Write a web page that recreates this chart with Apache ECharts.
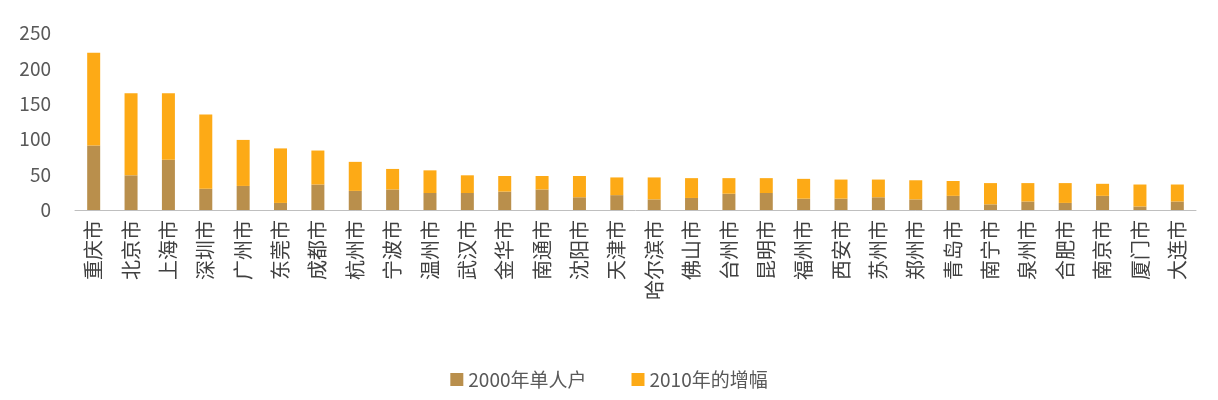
<!DOCTYPE html>
<html><head><meta charset="utf-8">
<script src="https://cdn.jsdelivr.net/npm/echarts@6/dist/echarts.min.js"></script>
<style>body{margin:0;background:#fff}#c{width:1218px;height:400px}</style>
</head><body><div id="c"></div>
<script>
var cities = ['重庆市','北京市','上海市','深圳市','广州市','东莞市','成都市','杭州市','宁波市','温州市','武汉市','金华市','南通市','沈阳市','天津市','哈尔滨市','佛山市','台州市','昆明市','福州市','西安市','苏州市','郑州市','青岛市','南宁市','泉州市','合肥市','南京市','厦门市','大连市'];
var base2000 = [91,49,71,30,34,10,36,27,29,24,24,26,29,18,21,15,17,23,24,16,16,18,15,20,8,12,10,20,5,12];
var total2010 = [222,165,165,135,99,87,84,68,58,56,49,48,48,48,46,46,45,45,45,44,43,43,42,41,38,38,38,37,36,36];
var growth = total2010.map(function (t, i) { return t - base2000[i]; });

var myChart = echarts.init(document.getElementById('c'));
var option = {
  animation: false,
  textStyle: { fontFamily: 'Noto Sans CJK SC' },
  grid: { left: 75, right: 22, top: 33, bottom: 190 },
  legend: {
    bottom: 6, itemWidth: 13, itemHeight: 13, itemGap: 45, icon: 'rect',
    textStyle: { fontSize: 19, color: '#595959' },
    data: ['2000年单人户', '2010年的增幅']
  },
  xAxis: {
    type: 'category', data: cities,
    axisTick: { show: false },
    axisLine: { lineStyle: { color: '#bfbfbf' } },
    axisLabel: { rotate: 90, fontSize: 20, color: '#404040', interval: 0, margin: 10 }
  },
  yAxis: {
    type: 'value', min: 0, max: 250, interval: 50,
    splitLine: { show: false },
    axisLabel: { fontSize: 19, color: '#595959', margin: 24 }
  },
  series: [
    { name: '2000年单人户', type: 'bar', stack: 'a', barWidth: 13, data: base2000, itemStyle: { color: '#B98F4C' } },
    { name: '2010年的增幅', type: 'bar', stack: 'a', barWidth: 13, data: growth, itemStyle: { color: '#FDAA16' } }
  ]
};
myChart.setOption(option);
</script></body></html>
